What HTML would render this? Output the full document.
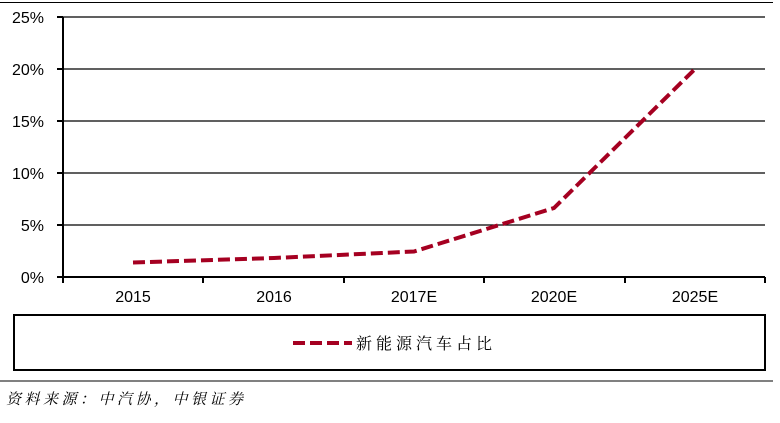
<!DOCTYPE html>
<html><head><meta charset="utf-8"><style>body{margin:0;background:#fff}</style></head><body>
<svg width="780" height="418" xmlns="http://www.w3.org/2000/svg" font-family="Liberation Sans, sans-serif">
<line x1="0" y1="2.5" x2="773" y2="2.5" stroke="#000" stroke-width="1"/>
<g stroke="#000" stroke-width="1.2">
<line x1="63" y1="17" x2="765" y2="17"/><line x1="63" y1="69" x2="765" y2="69"/>
<line x1="63" y1="121" x2="765" y2="121"/><line x1="63" y1="173" x2="765" y2="173"/>
<line x1="63" y1="225" x2="765" y2="225"/>
</g>
<g stroke="#000" stroke-width="2">
<line x1="63" y1="17" x2="63" y2="283"/>
<line x1="57" y1="277" x2="765" y2="277"/>
<line x1="57" y1="17" x2="63" y2="17"/><line x1="57" y1="69" x2="63" y2="69"/><line x1="57" y1="121" x2="63" y2="121"/><line x1="57" y1="173" x2="63" y2="173"/><line x1="57" y1="225" x2="63" y2="225"/>
<line x1="203" y1="277" x2="203" y2="283"/><line x1="344" y1="277" x2="344" y2="283"/><line x1="484" y1="277" x2="484" y2="283"/><line x1="625" y1="277" x2="625" y2="283"/><line x1="765" y1="277" x2="765" y2="283"/>
</g>
<g font-size="16" text-anchor="end">
<text x="44" y="23">25%</text><text x="44" y="75">20%</text><text x="44" y="127">15%</text><text x="44" y="179">10%</text><text x="44" y="231">5%</text><text x="44" y="283">0%</text>
</g>
<g font-size="16" text-anchor="middle">
<text x="133" y="302">2015</text><text x="274" y="302">2016</text><text x="414" y="302">2017E</text><text x="554" y="302">2020E</text><text x="695" y="302">2025E</text>
</g>
<polyline points="133,262.5 274,258 414,251.5 554,208 695,69" fill="none" stroke="#a50021" stroke-width="4" stroke-dasharray="12,5"/>
<rect x="14" y="315" width="751" height="55" fill="none" stroke="#000" stroke-width="2"/>
<line x1="293" y1="343" x2="352" y2="343" stroke="#a50021" stroke-width="4" stroke-dasharray="12,5"/>
<text x="356" y="349" font-size="16" font-family="Liberation Serif, Noto Serif CJK SC, serif" letter-spacing="4">新能源汽车占比</text>
<line x1="0" y1="381" x2="773" y2="381" stroke="#000" stroke-width="1"/>
<text x="6" y="404" font-size="15" font-style="italic" font-family="Liberation Serif, Noto Serif CJK SC, serif" letter-spacing="3.5">资料来源：中汽协，中银证券</text>
</svg>
</body></html>
